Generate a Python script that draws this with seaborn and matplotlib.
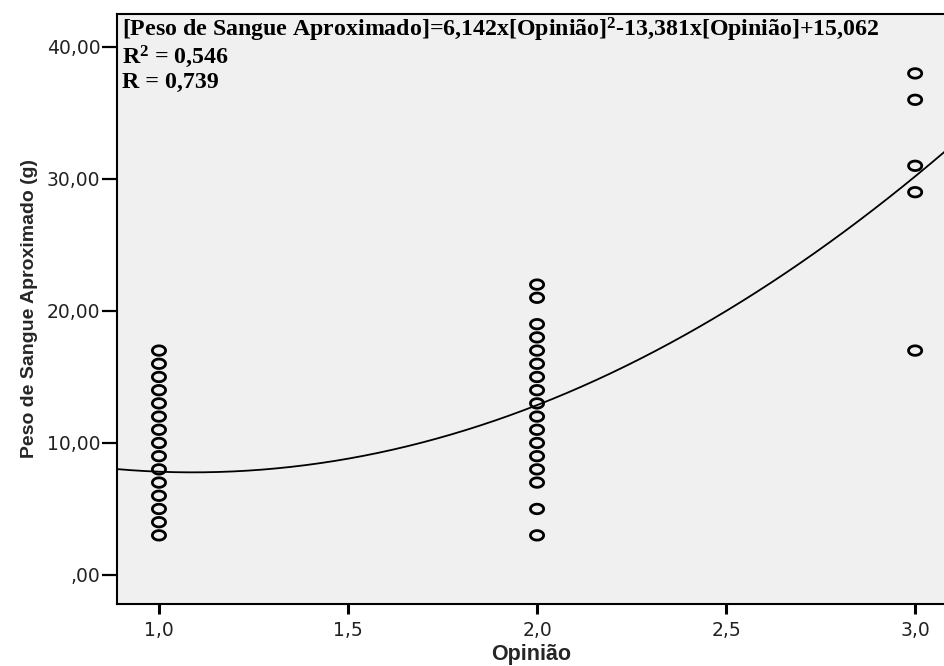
import numpy as np
import pandas as pd
import matplotlib
matplotlib.use("Agg")
import matplotlib.pyplot as plt
from matplotlib.path import Path
import seaborn as sns

# Observed blood weight (g) per opinion group
opiniao_1 = [17, 16, 15, 14, 13, 12, 11, 10, 9, 8, 7, 6, 5, 4, 3]
opiniao_2 = [22, 21, 19, 18, 17, 16, 15, 14, 13, 12, 11, 10, 9, 8, 7, 5, 3]
opiniao_3 = [38, 36, 31, 29, 17]

# Quadratic fit coefficients (a*x^2 + b*x + c) and fit statistics
coef_a, coef_b, coef_c = 6.142, -13.381, 15.062
r2_value = 0.546
r_value = 0.739

x_ticks = [1.0, 1.5, 2.0, 2.5, 3.0]
y_ticks = [0, 10, 20, 30, 40]

df = pd.DataFrame({
    "Opinião": [1.0] * len(opiniao_1) + [2.0] * len(opiniao_2) + [3.0] * len(opiniao_3),
    "Peso": opiniao_1 + opiniao_2 + opiniao_3,
})

sns.set_theme(style="white")
plt.rcParams["font.family"] = ["DejaVu Sans"]
plt.rcParams["mathtext.fontset"] = "custom"
plt.rcParams["mathtext.rm"] = "Liberation Serif:bold"
plt.rcParams["mathtext.bf"] = "Liberation Serif:bold"
plt.rcParams["mathtext.it"] = "Liberation Serif:bold"

fig = plt.figure(figsize=(9.45, 6.66), dpi=100)
ax = fig.add_axes([117 / 945, 1 - 604 / 666, 1 - 117 / 945, (604 - 14) / 666])
ax.set_facecolor("#f0f0f0")

# slightly flattened open circle marker
t = np.linspace(0, 2 * np.pi, 60)
ellipse = Path(np.column_stack([np.cos(t), 0.72 * np.sin(t)]), closed=True)

sns.scatterplot(data=df, x="Opinião", y="Peso", ax=ax, marker=ellipse, s=90,
                facecolors="none", edgecolors="black", linewidth=2.0, zorder=3)

xs = np.linspace(0.85, 3.15, 300)
curve = pd.DataFrame({"x": xs, "y": coef_a * xs ** 2 + coef_b * xs + coef_c})
sns.lineplot(data=curve, x="x", y="y", ax=ax, color="black", linewidth=1.3, zorder=2)

ax.set_xlim(0.889, 3.079)
ax.set_ylim(-2.2, 42.5)
ax.set_xticks(x_ticks)
ax.set_xticklabels([f"{v:.1f}".replace(".", ",") for v in x_ticks])
ax.set_yticks(y_ticks)
ax.set_yticklabels([",00" if v == 0 else f"{v:.2f}".replace(".", ",") for v in y_ticks])
ax.tick_params(axis="both", direction="out", colors="black",
               labelsize=13.5, labelcolor="#222222", left=True, bottom=True)
ax.tick_params(axis="y", length=11, width=1.6, pad=1)
ax.tick_params(axis="x", length=7, width=2.2, pad=5)

for side in ["left", "bottom", "top"]:
    ax.spines[side].set_color("black")
    ax.spines[side].set_linewidth(1.5)
ax.spines["right"].set_visible(False)

ax.set_xlabel("Opinião", fontsize=15.5, fontweight="bold",
              family=["Liberation Sans", "DejaVu Sans"], labelpad=3)
ax.set_ylabel("Peso de Sangue Aproximado (g)", fontsize=14, fontweight="bold",
              family=["Liberation Sans", "DejaVu Sans"], labelpad=6)

eq = ("[Peso de Sangue Aproximado]=" + f"{coef_a:.3f}".replace(".", ",")
      + "x[Opinião]$^{2}$" + f"{coef_b:.3f}".replace(".", ",")
      + "x[Opinião]+" + f"{coef_c:.3f}".replace(".", ","))
txt_kw = dict(transform=ax.transAxes, fontsize=17.2, fontweight="bold",
              family=["Liberation Serif"], va="top", ha="left", color="black")
ax.text(0.006, 0.997, eq, **txt_kw)
ax.text(0.006, 0.95, "R$^{2}$ = " + f"{r2_value:.3f}".replace(".", ","), **txt_kw)
ax.text(0.006, 0.902, "R = " + f"{r_value:.3f}".replace(".", ","), **txt_kw)

fig.savefig("out.png", dpi=100)
